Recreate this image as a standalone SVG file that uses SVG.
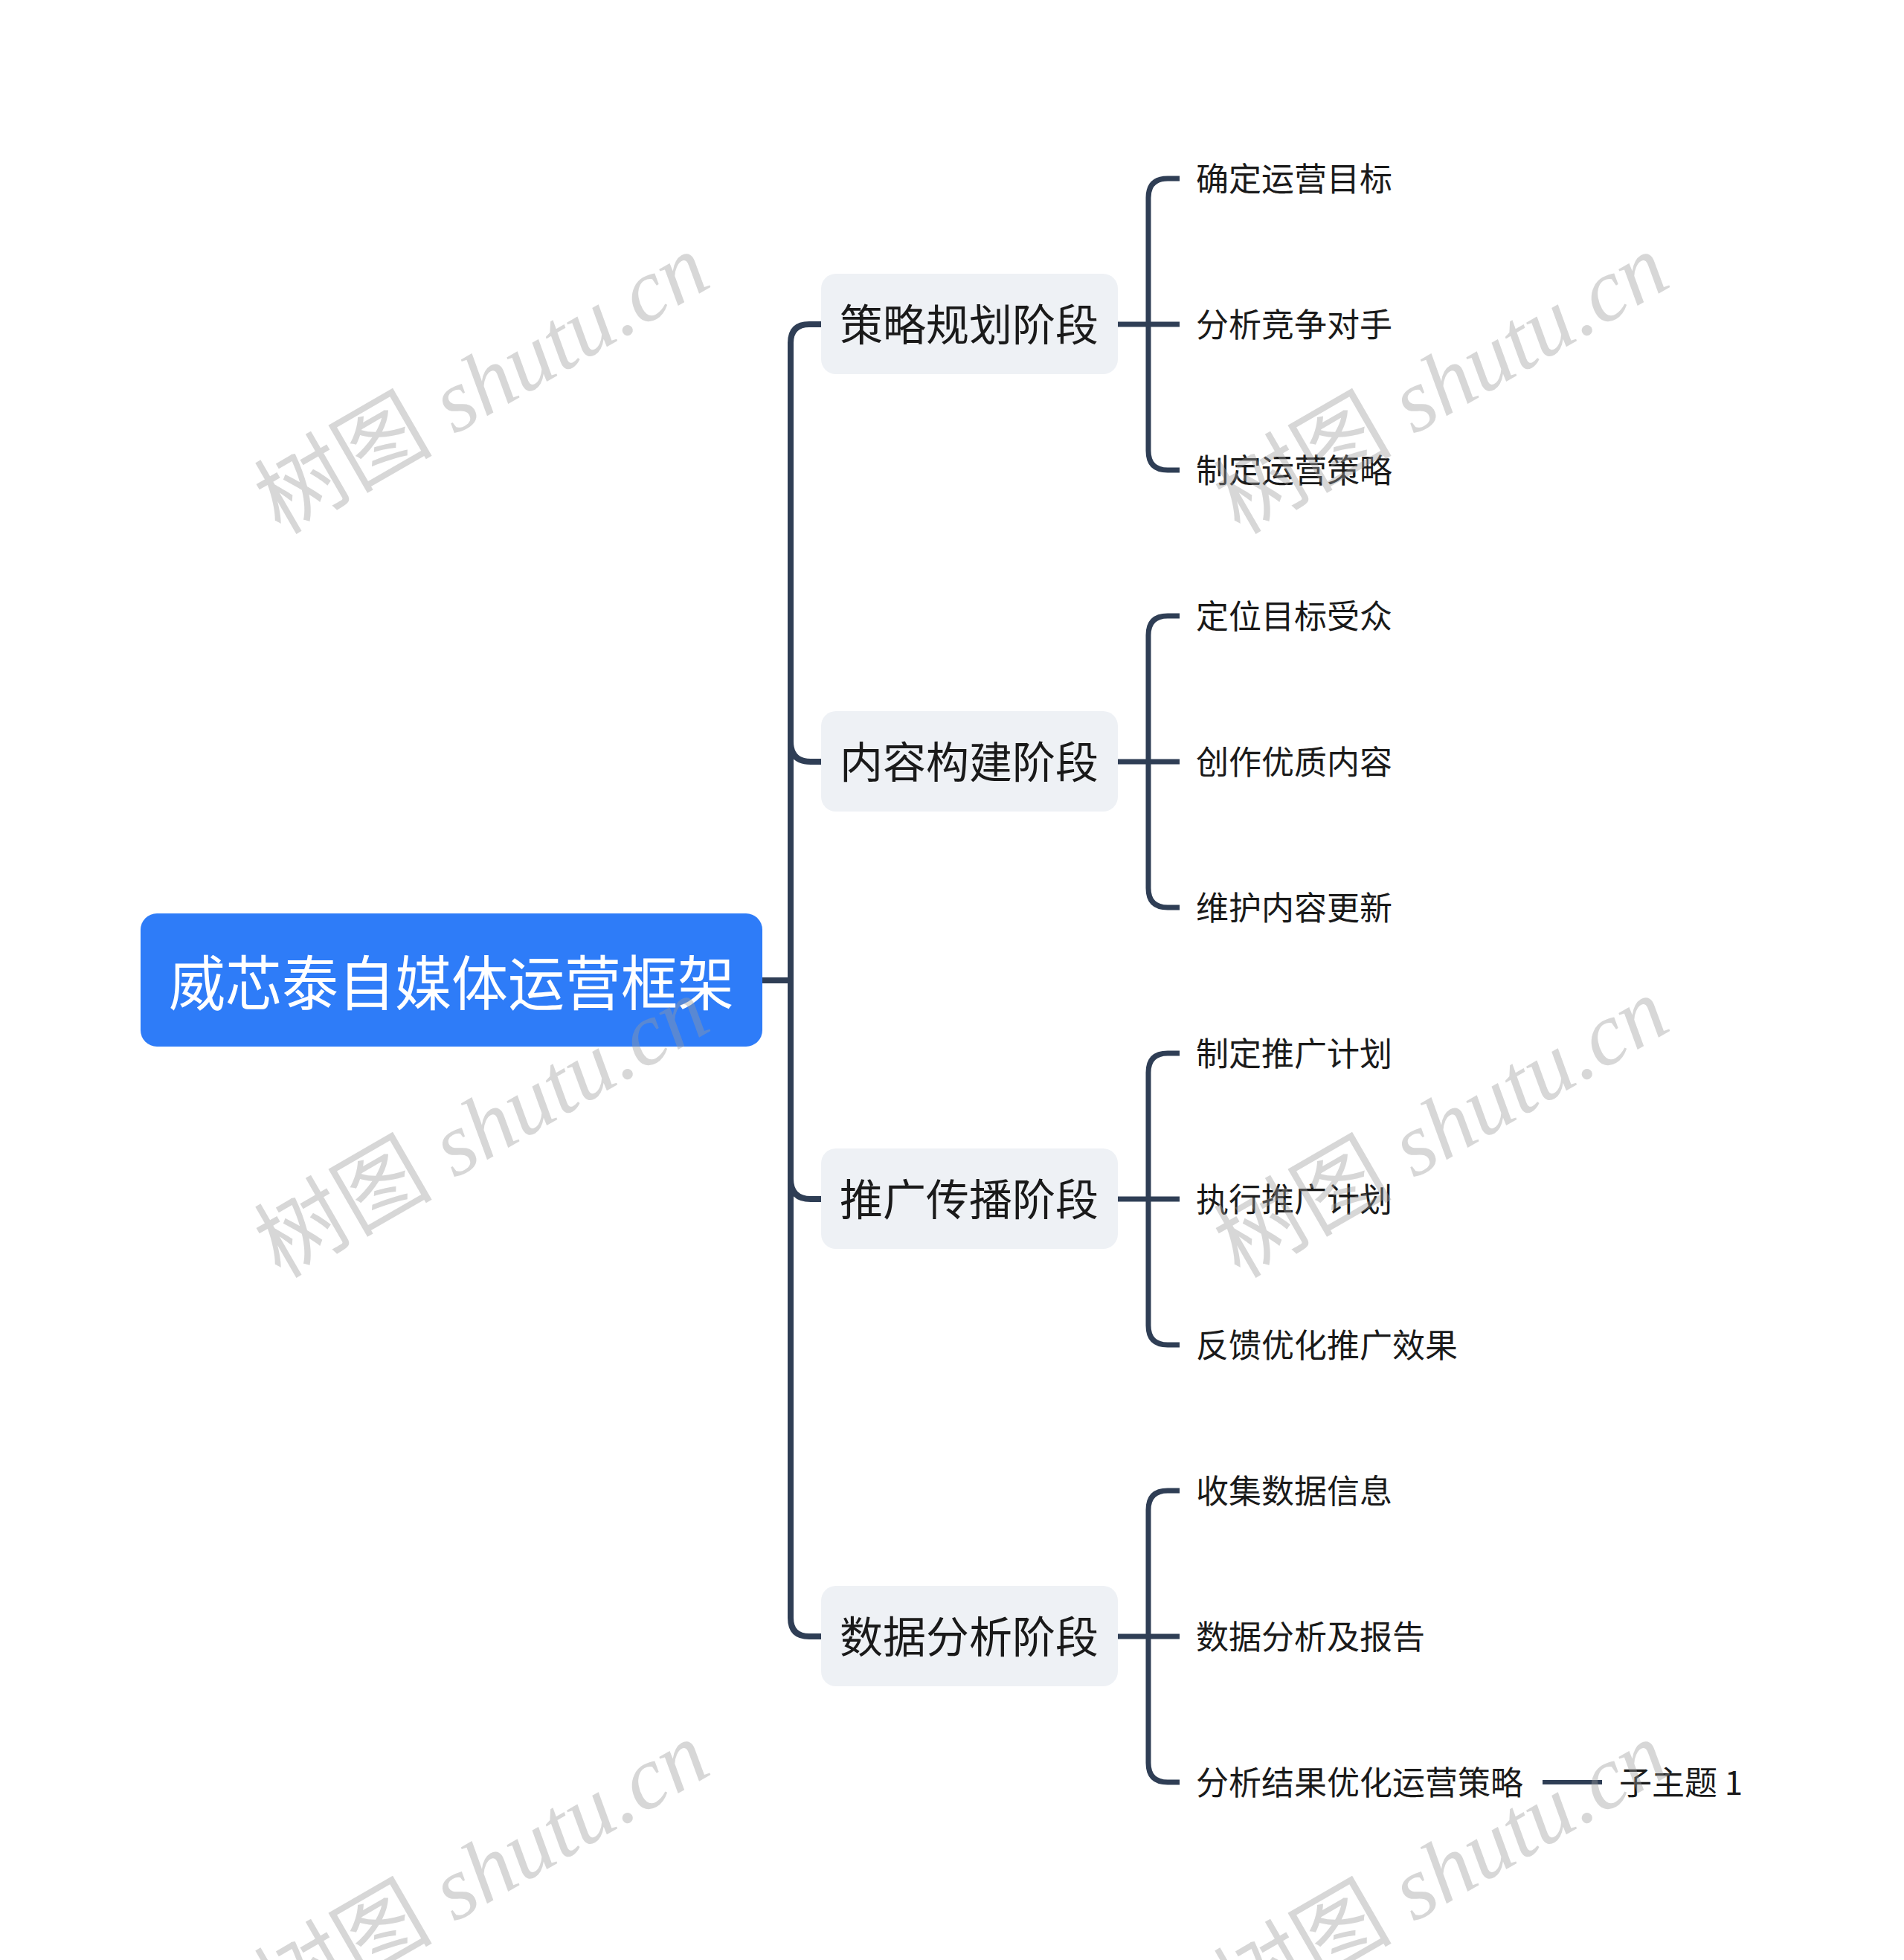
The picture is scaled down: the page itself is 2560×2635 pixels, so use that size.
<svg xmlns="http://www.w3.org/2000/svg" width="2560" height="2635" viewBox="0 0 2560 2635">
<style>
.conn{fill:none;stroke:#2f3e55;stroke-linejoin:round}
.main{stroke-width:8}
.sub{stroke-width:7}
.leaf{stroke-width:6}
.root-box{fill:#2e7cf8}
.root-text{fill:#ffffff;font-family:"Noto Sans CJK SC","Noto Sans",sans-serif;font-size:80px;text-anchor:middle;dominant-baseline:central}
.br-box{fill:#eef1f5}
.br-text{fill:#1a1a1a;font-family:"Noto Sans CJK SC","Noto Sans",sans-serif;font-size:58px;text-anchor:middle;dominant-baseline:central}
.ch-text{fill:#1a1a1a;font-family:"Noto Sans CJK SC","Noto Sans",sans-serif;font-size:44px;dominant-baseline:central}
.wm{fill:#9a9a9a;fill-opacity:0.4;font-family:"Liberation Serif","Noto Sans CJK SC",serif;font-size:120px;text-anchor:middle;dominant-baseline:central}
</style>
<rect width="2560" height="2635" fill="#ffffff"/>
<g id="connectors">
  <path class="conn main" d="M1025,1318 L1063,1318"/>
  <path class="conn main" d="M1104,436 L1088,436 Q1063,436 1063,461 L1063,2175 Q1063,2200 1088,2200 L1104,2200"/>
  <path class="conn main" d="M1063,997 Q1063,1024 1090,1024 L1104,1024"/>
  <path class="conn main" d="M1063,1585 Q1063,1612 1090,1612 L1104,1612"/>
  <path class="conn sub" d="M1503,436 L1586,436"/>
  <path class="conn sub" d="M1586,240 L1570,240 Q1544,240 1544,266 L1544,606 Q1544,632 1570,632 L1586,632"/>
  <path class="conn sub" d="M1503,1024 L1586,1024"/>
  <path class="conn sub" d="M1586,828 L1570,828 Q1544,828 1544,854 L1544,1194 Q1544,1220 1570,1220 L1586,1220"/>
  <path class="conn sub" d="M1503,1612 L1586,1612"/>
  <path class="conn sub" d="M1586,1416 L1570,1416 Q1544,1416 1544,1442 L1544,1782 Q1544,1808 1570,1808 L1586,1808"/>
  <path class="conn sub" d="M1503,2200 L1586,2200"/>
  <path class="conn sub" d="M1586,2004 L1570,2004 Q1544,2004 1544,2030 L1544,2370 Q1544,2396 1570,2396 L1586,2396"/>
  <path class="conn leaf" d="M2074,2396 L2154,2396"/>
</g>
<g id="root">
  <rect class="root-box" x="189" y="1228" width="836" height="179" rx="22"/>
  <text class="root-text" x="607" y="1316" textLength="760" lengthAdjust="spacingAndGlyphs">威芯泰自媒体运营框架</text>
</g>
<g id="b1">
  <rect class="br-box" x="1104" y="368" width="399" height="135" rx="20"/>
  <text class="br-text" x="1303" y="433">策略规划阶段</text>
</g>
<g id="b2">
  <rect class="br-box" x="1104" y="956" width="399" height="135" rx="20"/>
  <text class="br-text" x="1303" y="1021">内容构建阶段</text>
</g>
<g id="b3">
  <rect class="br-box" x="1104" y="1544" width="399" height="135" rx="20"/>
  <text class="br-text" x="1303" y="1609">推广传播阶段</text>
</g>
<g id="b4">
  <rect class="br-box" x="1104" y="2132" width="399" height="135" rx="20"/>
  <text class="br-text" x="1303" y="2197">数据分析阶段</text>
</g>
<g id="c1-1"><text class="ch-text" x="1608" y="238">确定运营目标</text></g>
<g id="c1-2"><text class="ch-text" x="1608" y="434">分析竞争对手</text></g>
<g id="c1-3"><text class="ch-text" x="1608" y="630">制定运营策略</text></g>
<g id="c2-1"><text class="ch-text" x="1608" y="826">定位目标受众</text></g>
<g id="c2-2"><text class="ch-text" x="1608" y="1022">创作优质内容</text></g>
<g id="c2-3"><text class="ch-text" x="1608" y="1218">维护内容更新</text></g>
<g id="c3-1"><text class="ch-text" x="1608" y="1414">制定推广计划</text></g>
<g id="c3-2"><text class="ch-text" x="1608" y="1610">执行推广计划</text></g>
<g id="c3-3"><text class="ch-text" x="1608" y="1806">反馈优化推广效果</text></g>
<g id="c4-1"><text class="ch-text" x="1608" y="2002">收集数据信息</text></g>
<g id="c4-2"><text class="ch-text" x="1608" y="2198">数据分析及报告</text></g>
<g id="c4-3"><text class="ch-text" x="1608" y="2394">分析结果优化运营策略</text></g>
<g id="c4-3-1"><text class="ch-text" x="2177" y="2394">子主题 1</text></g>
<g id="watermarks">
  <text class="wm" x="648" y="516" transform="rotate(-30 648 516)">树图 <tspan font-style="italic">shutu.cn</tspan></text>
  <text class="wm" x="1938" y="516" transform="rotate(-30 1938 516)">树图 <tspan font-style="italic">shutu.cn</tspan></text>
  <text class="wm" x="648" y="1516" transform="rotate(-30 648 1516)">树图 <tspan font-style="italic">shutu.cn</tspan></text>
  <text class="wm" x="1938" y="1516" transform="rotate(-30 1938 1516)">树图 <tspan font-style="italic">shutu.cn</tspan></text>
  <text class="wm" x="648" y="2516" transform="rotate(-30 648 2516)">树图 <tspan font-style="italic">shutu.cn</tspan></text>
  <text class="wm" x="1938" y="2516" transform="rotate(-30 1938 2516)">树图 <tspan font-style="italic">shutu.cn</tspan></text>
</g>
</svg>
